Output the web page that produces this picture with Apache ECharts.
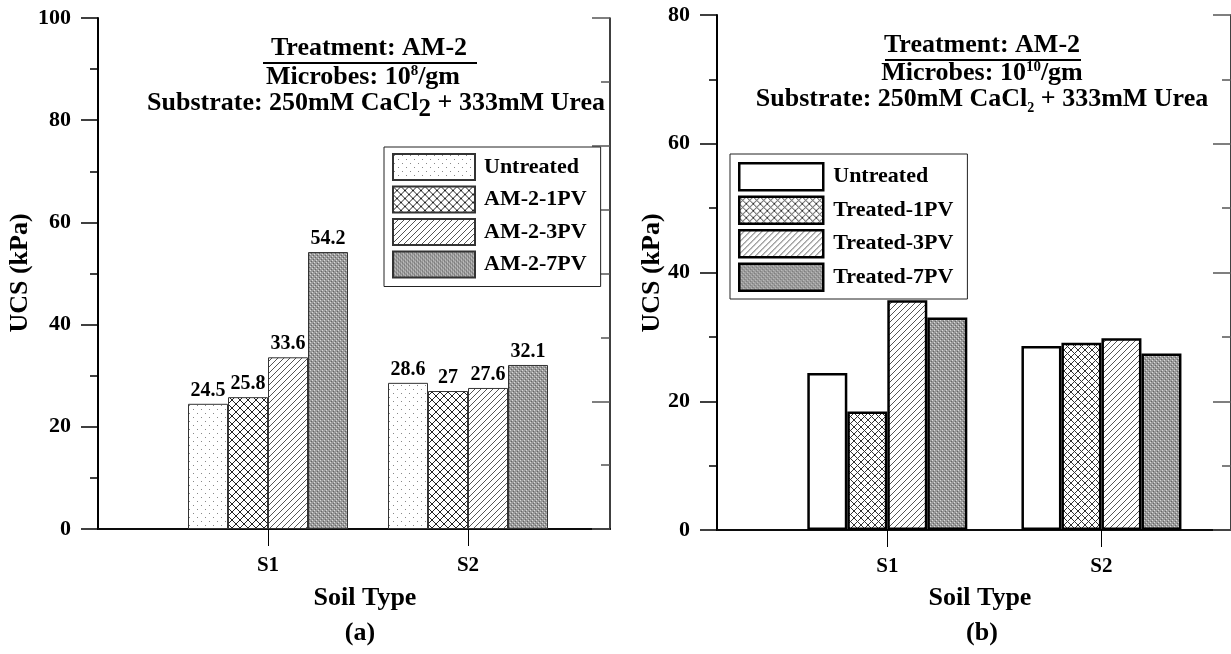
<!DOCTYPE html>
<html><head><meta charset="utf-8">
<script src="https://cdn.jsdelivr.net/npm/echarts@6/dist/echarts.min.js"></script>
<style>html,body{margin:0;padding:0;background:#fff}#c{width:1231px;height:654px}</style>
</head><body><div id="c"></div>
<script>
// ---- data ----
const categories = ['S1', 'S2'];
const catPos = [1, 2];
const namesA = ['Untreated', 'AM-2-1PV', 'AM-2-3PV', 'AM-2-7PV'];
const untreatedA = [24.5, 28.6];
const pv1A = [25.8, 27];
const pv3A = [33.6, 27.6];
const pv7A = [54.2, 32.1];
const namesB = ['Untreated', 'Treated-1PV', 'Treated-3PV', 'Treated-7PV'];
const untreatedB = [24.4, 28.6];
const pv1B = [18.4, 29.1];
const pv3B = [35.7, 29.8];
const pv7B = [33.0, 27.4];
const yMaxA = 100, yMaxB = 80, yStep = 20;

// ---- patterns ----
function tile(size, draw) {
  const c = document.createElement('canvas');
  c.width = size; c.height = size;
  const g = c.getContext('2d');
  draw(g, size);
  return { image: c, repeat: 'repeat' };
}
const patDots = tile(8, (g) => {
  g.fillStyle = '#fff'; g.fillRect(0, 0, 8, 8);
  g.fillStyle = '#888'; g.fillRect(1, 1, 1, 1); g.fillRect(5, 5, 1, 1);
});
const patCross = tile(8, (g) => {
  g.fillStyle = '#fff'; g.fillRect(0, 0, 8, 8);
  g.strokeStyle = '#222'; g.lineWidth = 1;
  g.beginPath(); g.moveTo(0, 0); g.lineTo(8, 8); g.moveTo(8, 0); g.lineTo(0, 8); g.stroke();
});
const patCrossB = tile(7, (g) => {
  g.fillStyle = '#fff'; g.fillRect(0, 0, 7, 7);
  g.strokeStyle = '#333'; g.lineWidth = 1;
  g.beginPath(); g.moveTo(0, 0); g.lineTo(7, 7); g.moveTo(7, 0); g.lineTo(0, 7); g.stroke();
});
const patDiag = tile(6, (g) => {
  g.fillStyle = '#fff'; g.fillRect(0, 0, 6, 6);
  g.strokeStyle = '#555'; g.lineWidth = 1;
  g.beginPath(); g.moveTo(0, 6); g.lineTo(6, 0);
  g.moveTo(-1, 1); g.lineTo(1, -1); g.moveTo(5, 7); g.lineTo(7, 5); g.stroke();
});
const patDense = tile(4, (g) => {
  g.fillStyle = '#9a9a9a'; g.fillRect(0, 0, 4, 4);
  g.fillStyle = '#d8d8d8'; g.fillRect(0, 0, 1, 1); g.fillRect(2, 2, 1, 1);
  g.fillStyle = '#666'; g.fillRect(1, 3, 1, 1); g.fillRect(3, 1, 1, 1);
});
const patsB = ['#fff', patCrossB, patDiag, patDense];

const FONT = '"Liberation Serif", "Times New Roman", serif';
const toPts = (arr) => arr.map((v, i) => [catPos[i], v]);

function axesFor(gi, xmin, xmax, ymax) {
  const xAxes = [
    { gridIndex: gi, type: 'value', min: xmin, max: xmax, position: 'bottom',
      axisLine: { lineStyle: { color: '#000', width: 2 } },
      axisTick: { customValues: catPos, length: 17, lineStyle: { color: '#000', width: 1 } },
      axisLabel: { customValues: catPos, margin: 26, fontFamily: FONT, fontWeight: 'bold', fontSize: 21, color: '#000',
        formatter: (v) => categories[catPos.indexOf(v)] || '' },
      splitLine: { show: false } },
    { gridIndex: gi, type: 'value', min: xmin, max: xmax, position: 'top',
      axisLine: { lineStyle: { color: '#111', width: 1.5 } },
      axisTick: { show: false }, axisLabel: { show: false }, splitLine: { show: false } }
  ];
  const yAxes = [
    { gridIndex: gi, type: 'value', min: 0, max: ymax, interval: yStep, position: 'left',
      axisLine: { show: true, lineStyle: { color: '#000', width: 2 } },
      axisTick: { show: true, length: 17, lineStyle: { color: '#000', width: 1.5 } },
      minorTick: { show: true, splitNumber: 2, length: 8, lineStyle: { color: '#000', width: 1.5 } },
      axisLabel: { margin: 27, fontFamily: FONT, fontWeight: 'bold', fontSize: 22, color: '#000' },
      splitLine: { show: false } },
    { gridIndex: gi, type: 'value', min: 0, max: 80, interval: 20, position: 'right',
      axisLine: { show: true, lineStyle: { color: '#000', width: 1.5 } },
      axisTick: { show: true, inside: true, length: 18, lineStyle: { color: '#555', width: 1.5 } },
      minorTick: { show: true, splitNumber: 2, length: 9, lineStyle: { color: '#555', width: 1.5 } },
      axisLabel: { show: false }, splitLine: { show: false } }
  ];
  return { xAxes, yAxes };
}

const A = axesFor(0, 0.15, 2.71, yMaxA);
const B = axesFor(1, 0.2047, 2.605, yMaxB);

function barSeries(name, vals, pat, xi, yi, thick, withLabel) {
  return {
    type: 'bar', name, xAxisIndex: xi, yAxisIndex: yi,
    data: toPts(vals), barWidth: 40, barGap: '0%',
    itemStyle: { color: pat, borderColor: thick ? '#000' : '#333', borderWidth: thick ? 2.5 : 1 },
    label: withLabel ? { show: true, position: 'top', distance: 3, fontFamily: FONT, fontWeight: 'bold', fontSize: 20, color: '#000' } : { show: false },
    emphasis: { disabled: true }, animation: false
  };
}

const titleRich = {
  n: { fontFamily: FONT, fontWeight: 'bold', fontSize: 26, lineHeight: 28, verticalAlign: 'top', fill: '#000' },
  sup: { fontFamily: FONT, fontWeight: 'bold', fontSize: 15, lineHeight: 15, verticalAlign: 'top', fill: '#000' },
  subA: { fontFamily: FONT, fontWeight: 'bold', fontSize: 25, lineHeight: 24, verticalAlign: 'top', padding: [7, 0, 0, 0], fill: '#000' },
  subB: { fontFamily: FONT, fontWeight: 'bold', fontSize: 14, lineHeight: 14, verticalAlign: 'top', padding: [15, 0, 0, 0], fill: '#000' }
};
function txt(x, y, text, size, rot) {
  return { type: 'text', x, y, rotation: rot || 0, silent: true,
    style: { text, fontFamily: FONT, fontWeight: 'bold', fontSize: size || 26, fill: '#000', align: 'center', verticalAlign: 'middle', rich: titleRich } };
}

const option = {
  backgroundColor: '#fff',
  animation: false,
  grid: [
    { left: 98, top: 18, width: 512, height: 511 },
    { left: 717, top: 15, width: 516, height: 515 }
  ],
  xAxis: [...A.xAxes, ...B.xAxes],
  yAxis: [...A.yAxes, ...B.yAxes],
  legend: [
    { data: namesA, orient: 'vertical', left: 384, top: 147, icon: 'rect', itemWidth: 82, itemHeight: 26, itemGap: 4.5,
      padding: [6, 14, 8, 8], borderColor: '#222', borderWidth: 1, backgroundColor: '#fff', selectedMode: false,
      textStyle: { fontFamily: FONT, fontWeight: 'bold', fontSize: 22, color: '#000', padding: [0, 0, 0, 4] } },
    { data: namesB.map((n, i) => ({ name: n, itemStyle: { color: patsB[i], borderColor: '#000', borderWidth: 2.5 } })),
      orient: 'vertical', left: 730, top: 154, icon: 'rect', itemWidth: 84, itemHeight: 27, itemGap: 4,
      padding: [8, 14, 7, 8], borderColor: '#222', borderWidth: 1, backgroundColor: '#fff', selectedMode: false,
      textStyle: { fontFamily: FONT, fontWeight: 'bold', fontSize: 22, color: '#000', padding: [0, 0, 0, 5] } }
  ],
  series: [
    barSeries(namesA[0], untreatedA, patDots, 0, 0, false, true),
    barSeries(namesA[1], pv1A, patCross, 0, 0, false, true),
    barSeries(namesA[2], pv3A, patDiag, 0, 0, false, true),
    barSeries(namesA[3], pv7A, patDense, 0, 0, false, true),
    barSeries(namesB[0], untreatedB, patsB[0], 2, 2, true, false),
    barSeries(namesB[1], pv1B, patsB[1], 2, 2, true, false),
    barSeries(namesB[2], pv3B, patsB[2], 2, 2, true, false),
    barSeries(namesB[3], pv7B, patsB[3], 2, 2, true, false)
  ],
  graphic: [
    txt(369, 49, '{n|Treatment: AM-2}'),
    { type: 'line', shape: { x1: 263, y1: 63, x2: 477, y2: 63 }, style: { stroke: '#000', lineWidth: 2 }, silent: true },
    txt(363, 78, '{n|Microbes: 10}{sup|8}{n|/gm}'),
    txt(376, 104, '{n|Substrate: 250mM CaCl}{subA|2}{n| + 333mM Urea}'),
    txt(982, 46, '{n|Treatment: AM-2}'),
    { type: 'line', shape: { x1: 885, y1: 60, x2: 1081, y2: 60 }, style: { stroke: '#000', lineWidth: 2 }, silent: true },
    txt(982, 74, '{n|Microbes: 10}{sup|10}{n|/gm}'),
    txt(982, 100, '{n|Substrate: 250mM CaCl}{subB|2}{n| + 333mM Urea}'),
    txt(20, 273, 'UCS (kPa)', 26, Math.PI / 2),
    txt(652, 273, 'UCS (kPa)', 26, Math.PI / 2),
    txt(365, 598, 'Soil Type', 26),
    txt(980, 598, 'Soil Type', 26),
    txt(360, 633, '(a)', 26),
    txt(982, 633, '(b)', 26)
  ]
};
const chart = echarts.init(document.getElementById('c'), null, { renderer: 'canvas' });
chart.setOption(option);
</script></body></html>
